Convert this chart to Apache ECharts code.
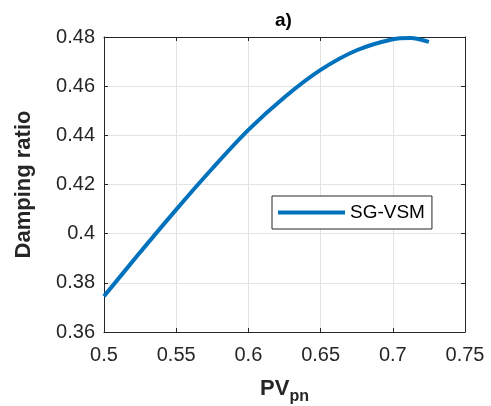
<!DOCTYPE html>
<html>
<head>
<meta charset="utf-8">
<script src="https://cdn.jsdelivr.net/npm/echarts@6/dist/echarts.min.js"></script>
<style>
  html, body { margin: 0; padding: 0; background: #fff; }
  #chart { width: 491px; height: 406px; }
</style>
</head>
<body>
<div id="chart"></div>
<script>
// PV penetration level vs. damping ratio of the SG-VSM case
const pvLevels = [0.500, 0.525, 0.550, 0.575, 0.600, 0.625, 0.650, 0.675, 0.700, 0.7125, 0.725];
const dampingRatio = [0.3745, 0.3924, 0.4098, 0.4265, 0.4422, 0.4555, 0.4666, 0.4746, 0.4791, 0.4796, 0.4780];
const seriesName = 'SG-VSM';
const xTicks = { min: 0.5, max: 0.75, step: 0.05 };
const yTicks = { min: 0.36, max: 0.48, step: 0.02 };

const axisColor = '#262626';
const gridColor = '#e3e3e3';
const fontFamily = 'Liberation Sans, Arial, sans-serif';

const chart = echarts.init(document.getElementById('chart'), null, { renderer: 'canvas' });

const baseAxis = {
  axisLine: { show: true, onZero: false, lineStyle: { color: axisColor, width: 1 } },
  axisTick: { show: true, inside: true, length: 4, lineStyle: { color: axisColor } },
  splitLine: { show: true, lineStyle: { color: gridColor, width: 1 } },
  axisLabel: { color: axisColor, fontSize: 20, fontFamily: fontFamily }
};

chart.setOption({
  animation: false,
  backgroundColor: '#fff',
  title: {
    text: 'a)',
    left: 270, top: 6,
    textStyle: { fontSize: 19, fontWeight: 'bold', color: '#000', fontFamily: fontFamily }
  },
  grid: { left: 104, right: 26, top: 37, bottom: 74, outerBoundsMode: 'none' },
  legend: {
    data: [seriesName],
    left: 272, top: 196,
    orient: 'vertical',
    backgroundColor: '#fff',
    borderColor: axisColor,
    borderWidth: 1,
    padding: [7, 7, 7, 6],
    icon: 'rect',
    itemWidth: 67,
    itemHeight: 4,
    itemGap: 0,
    textStyle: { fontSize: 19, color: '#000', fontFamily: fontFamily }
  },
  xAxis: [
    Object.assign({}, baseAxis, {
      type: 'value',
      min: xTicks.min, max: xTicks.max, interval: xTicks.step,
      axisLabel: Object.assign({}, baseAxis.axisLabel, { margin: 13 }),
      name: '{b|PV}{s|pn}',
      nameLocation: 'middle',
      nameGap: 40,
      nameTextStyle: {
        rich: {
          b: { fontSize: 22, fontWeight: 'bold', color: axisColor, fontFamily: fontFamily },
          s: { fontSize: 16, fontWeight: 'bold', color: axisColor, fontFamily: fontFamily, padding: [17, 0, 0, 0] }
        }
      }
    }),
    Object.assign({}, baseAxis, {
      type: 'value', position: 'top',
      min: xTicks.min, max: xTicks.max, interval: xTicks.step,
      axisLabel: { show: false },
      splitLine: { show: false }
    })
  ],
  yAxis: [
    Object.assign({}, baseAxis, {
      type: 'value',
      min: yTicks.min, max: yTicks.max, interval: yTicks.step,
      axisLabel: Object.assign({}, baseAxis.axisLabel, { margin: 9 }),
      name: 'Damping ratio',
      nameLocation: 'middle',
      nameGap: 69,
      nameTextStyle: { fontSize: 22, fontWeight: 'bold', color: axisColor, fontFamily: fontFamily }
    }),
    Object.assign({}, baseAxis, {
      type: 'value', position: 'right',
      min: yTicks.min, max: yTicks.max, interval: yTicks.step,
      axisLabel: { show: false },
      splitLine: { show: false }
    })
  ],
  series: [{
    name: seriesName,
    type: 'line',
    data: pvLevels.map((x, i) => [x, dampingRatio[i]]),
    smooth: 0.3,
    showSymbol: false,
    symbol: 'none',
    lineStyle: { color: '#0072BD', width: 4 },
    itemStyle: { color: '#0072BD' }
  }]
});
</script>
</body>
</html>
